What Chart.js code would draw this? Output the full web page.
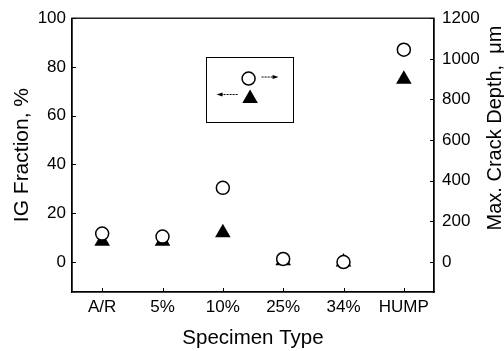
<!DOCTYPE html>
<html>
<head>
<meta charset="utf-8">
<script src="https://cdn.jsdelivr.net/npm/chart.js@4/dist/chart.umd.min.js"></script>
<style>
html, body { margin: 0; padding: 0; background: #fff; }
#wrap { width: 504px; height: 351px; }
</style>
</head>
<body>
<div id="wrap"><canvas id="myChart" width="504" height="351"></canvas></div>
<script>
// data
const specimens = ['A/R', '5%', '10%', '25%', '34%', 'HUMP'];
const igFraction = [8.5, 8.5, 12, 0.5, 0, 75];      // filled triangles, left axis (%)
const crackDepth = [140, 125, 365, 15, 0, 1045];    // open circles, right axis (um)
const igTicks = [0, 20, 40, 60, 80, 100];
const depthTicks = [0, 200, 400, 600, 800, 1000, 1200];

const FONT = "'Liberation Sans', Arial, Helvetica, sans-serif";

function trianglePath(ctx, x, y, r) {
  ctx.beginPath();
  ctx.moveTo(x, y - r);
  ctx.lineTo(x + r * Math.sin(2 * Math.PI / 3), y - r * Math.cos(2 * Math.PI / 3));
  ctx.lineTo(x + r * Math.sin(4 * Math.PI / 3), y - r * Math.cos(4 * Math.PI / 3));
  ctx.closePath();
}

function arrow(ctx, x1, x2, y) {
  // thin dotted line with a small solid head at x2
  const dir = x2 > x1 ? 1 : -1;
  ctx.save();
  ctx.setLineDash([2, 1]);
  ctx.lineWidth = 1;
  ctx.beginPath();
  ctx.moveTo(x1, y);
  ctx.lineTo(x2 - dir * 5, y);
  ctx.stroke();
  ctx.setLineDash([]);
  ctx.beginPath();
  ctx.moveTo(x2, y);
  ctx.lineTo(x2 - dir * 6, y - 2);
  ctx.lineTo(x2 - dir * 6, y + 2);
  ctx.closePath();
  ctx.fill();
  ctx.restore();
}

const framePlugin = {
  id: 'frame',
  afterDraw(chart) {
    const ctx = chart.ctx;
    const a = chart.chartArea;
    const yL = chart.scales.y, yR = chart.scales.y1, x = chart.scales.x;
    ctx.save();
    ctx.strokeStyle = '#000';
    ctx.fillStyle = '#000';
    ctx.lineWidth = 1.3;
    ctx.strokeRect(a.left, a.top, a.right - a.left, a.bottom - a.top);

    // tick marks point into the plot
    ctx.lineWidth = 1;
    ctx.beginPath();
    yL.ticks.forEach(t => {
      const p = Math.round(yL.getPixelForValue(t.value)) + 0.5;
      ctx.moveTo(a.left, p); ctx.lineTo(a.left + 4, p);
    });
    yR.ticks.forEach(t => {
      const p = Math.round(yR.getPixelForValue(t.value)) + 0.5;
      ctx.moveTo(a.right, p); ctx.lineTo(a.right - 4, p);
    });
    specimens.forEach((s, i) => {
      const p = Math.round(x.getPixelForValue(i)) + 0.5;
      ctx.moveTo(p, a.bottom); ctx.lineTo(p, a.bottom - 4);
    });
    ctx.stroke();

    // legend box
    const w = a.right - a.left, h = a.bottom - a.top;
    const bx = a.left + w * 0.369, by = a.top + h * 0.14;
    const bw = 87, bh = 65;
    ctx.lineWidth = 1;
    ctx.strokeRect(Math.round(bx) + 0.5, Math.round(by) + 0.5, bw, bh);
    const cx = bx + 43, cy = by + 22;
    ctx.lineWidth = 1.5;
    ctx.beginPath();
    ctx.arc(cx, cy, 6.5, 0, Math.PI * 2);
    ctx.fillStyle = '#fff';
    ctx.fill();
    ctx.stroke();
    ctx.fillStyle = '#000';
    trianglePath(ctx, cx + 1.5, cy + 20, 9);
    ctx.fill();
    arrow(ctx, cx + 13, cx + 30, cy - 1.5);
    arrow(ctx, cx - 11, cx - 32, cy + 16);

    // right axis title reads bottom to top
    ctx.font = '20px ' + FONT;
    ctx.textAlign = 'center';
    ctx.textBaseline = 'middle';
    ctx.translate(chart.width - 9, 128);
    ctx.rotate(-Math.PI / 2);
    ctx.fillText('Max. Crack Depth,  \u03bcm', 0, 0);
    ctx.restore();
  }
};

const ctx = document.getElementById('myChart').getContext('2d');
const myChart = new Chart(ctx, {
  type: 'line',
  data: {
    labels: specimens,
    datasets: [
      {
        label: 'Max. Crack Depth',
        data: crackDepth,
        yAxisID: 'y1',
        showLine: false,
        order: 0,
        pointStyle: 'circle',
        pointRadius: 6.5,
        pointBorderWidth: 1.5,
        pointBorderColor: '#000',
        pointBackgroundColor: '#fff'
      },
      {
        label: 'IG Fraction',
        data: igFraction,
        yAxisID: 'y',
        showLine: false,
        order: 1,
        pointStyle: 'triangle',
        pointRadius: 9,
        pointBorderWidth: 0,
        pointBorderColor: '#000',
        pointBackgroundColor: '#000'
      }
    ]
  },
  options: {
    responsive: false,
    animation: false,
    layout: { padding: { top: 15, left: 0, right: 0, bottom: 0 } },
    plugins: {
      legend: { display: false },
      tooltip: { enabled: false }
    },
    scales: {
      x: {
        type: 'category',
        offset: true,
        grid: { display: true, drawOnChartArea: false, drawTicks: false },
        border: { display: true, color: '#000', width: 1.3 },
        ticks: { color: '#000', padding: 5, font: { family: FONT, size: 17 } },
        title: {
          display: true, text: 'Specimen Type', color: '#000',
          font: { family: FONT, size: 20.5 }, padding: { top: 0, bottom: 0 }
        },
        afterFit(scale) { scale.height = 59; }
      },
      y: {
        position: 'left',
        min: -12.3,
        max: 100,
        grid: { display: true, drawOnChartArea: false, drawTicks: false },
        border: { display: true, color: '#000', width: 1.3 },
        afterBuildTicks(scale) { scale.ticks = igTicks.map(v => ({ value: v })); },
        ticks: { color: '#000', padding: 6, font: { family: FONT, size: 17 },
                 callback: v => String(v) },
        title: {
          display: true, text: 'IG Fraction, %', color: '#000',
          font: { family: FONT, size: 21 }, padding: { top: 10, bottom: 0 }
        },
        afterFit(scale) { scale.width = 72; }
      },
      y1: {
        position: 'right',
        min: -147.6,
        max: 1200,
        grid: { display: true, drawOnChartArea: false, drawTicks: false },
        border: { display: true, color: '#000', width: 1.3 },
        afterBuildTicks(scale) { scale.ticks = depthTicks.map(v => ({ value: v })); },
        ticks: { color: '#000', padding: 8, font: { family: FONT, size: 17 },
                 callback: v => String(v) },
        afterFit(scale) { scale.width = 70; }
      }
    }
  },
  plugins: [framePlugin]
});
</script>
</body>
</html>
